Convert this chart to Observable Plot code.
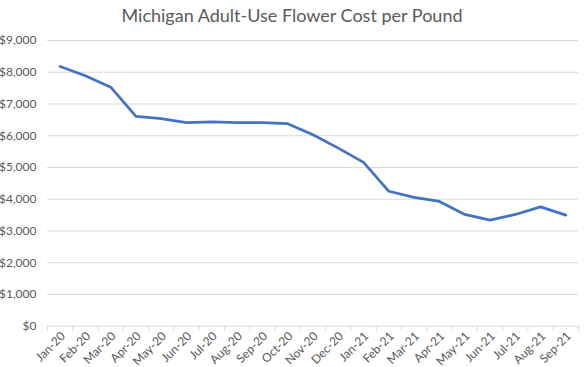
<!DOCTYPE html>
<html>
<head>
<meta charset="utf-8">
<script src="https://cdn.jsdelivr.net/npm/d3@7"></script>
<script src="https://cdn.jsdelivr.net/npm/@observablehq/plot@0.6"></script>
<style>
  body { margin: 0; background: #fff; font-family: Lato, "Open Sans", sans-serif; }
  #title { height: 30px; line-height: 30px; text-align: center; font-size: 18px; color: #595959; }
</style>
</head>
<body>
<div id="title">Michigan Adult-Use Flower Cost per Pound</div>
<div id="chart"></div>
<script>
const months = ["Jan-20","Feb-20","Mar-20","Apr-20","May-20","Jun-20","Jul-20","Aug-20","Sep-20","Oct-20","Nov-20","Dec-20","Jan-21","Feb-21","Mar-21","Apr-21","May-21","Jun-21","Jul-21","Aug-21","Sep-21"];
const prices = [8180, 7890, 7530, 6610, 6540, 6410, 6440, 6410, 6410, 6380, 6030, 5610, 5160, 4250, 4060, 3930, 3520, 3340, 3520, 3760, 3500];
const yTicks = [0, 1000, 2000, 3000, 4000, 5000, 6000, 7000, 8000, 9000];

const data = months.map((m, i) => ({i, month: m, price: prices[i]}));
const idx = months.map((m, i) => i);
const bounds = months.map((m, i) => i - 0.5).concat([months.length - 0.5]);

const chart = Plot.plot({
  width: 584,
  height: 337,
  marginTop: 10,
  marginBottom: 41.3,
  marginLeft: 47,
  marginRight: 6,
  style: {fontFamily: "Lato, 'Open Sans', sans-serif", color: "#595959", background: "#fff"},
  x: {type: "linear", domain: [-0.5, months.length - 0.5]},
  y: {domain: [0, 9000]},
  marks: [
    Plot.gridY(yTicks.filter(d => d > 0), {stroke: "#d9d9d9", strokeOpacity: 1, strokeWidth: 1}),
    Plot.ruleY([0], {stroke: "#d9d9d9", strokeWidth: 1}),
    Plot.axisY(yTicks, {tickSize: 0, tickPadding: 11, fontSize: 12, fill: "#595959",
      tickFormat: d => "$" + d3.format(",")(d), label: null}),
    Plot.axisX(bounds, {tickSize: 5, stroke: "#d9d9d9", tickFormat: () => "", label: null}),
    Plot.axisX(idx, {tickSize: 0, tickPadding: 0, rotate: -45, textAnchor: "end", lineAnchor: "middle",
      dx: 3, dy: 8, fontSize: 12, fill: "#595959",
      tickFormat: i => months[i], label: null}),
    Plot.line(data, {x: "i", y: "price", stroke: "#4472C4", strokeWidth: 2.75, strokeLinejoin: "round", strokeLinecap: "round"})
  ]
});
document.getElementById("chart").appendChild(chart);
</script>
</body>
</html>
